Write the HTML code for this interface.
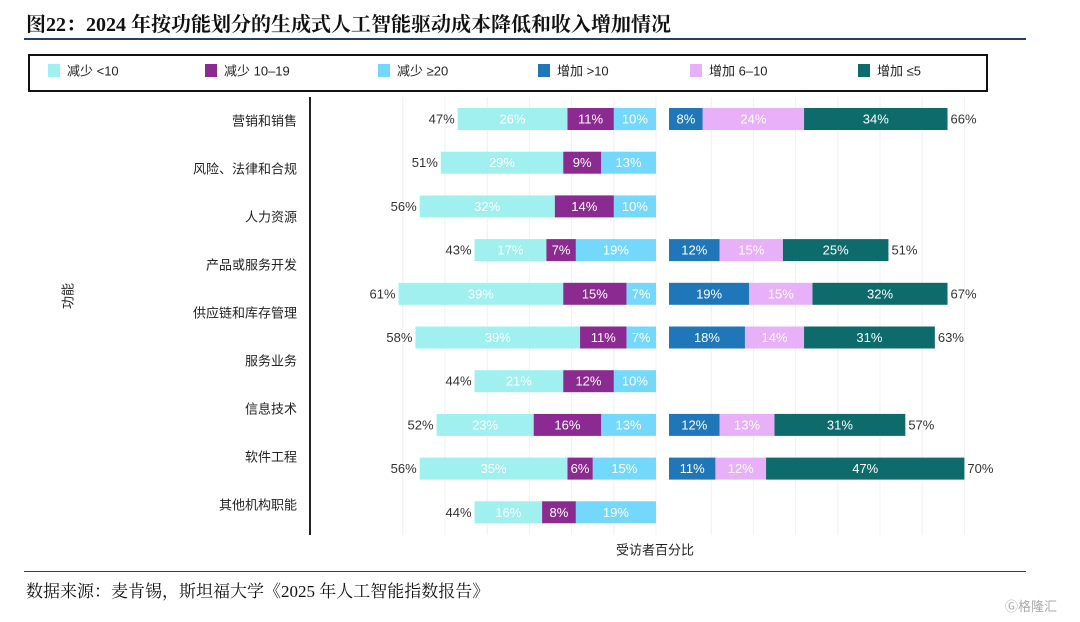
<!DOCTYPE html>
<html><head><meta charset="utf-8"><style>
body{margin:0;width:1080px;height:622px;background:#fff;overflow:hidden;position:relative;font-family:"Liberation Sans","Noto Sans CJK SC",sans-serif}
.t{position:absolute;white-space:nowrap}
</style></head><body>
<div class="t" style="left:26px;top:8px;font-family:'Liberation Serif','Noto Serif CJK SC',serif;font-weight:bold;font-size:20px;color:#111">图22：2024 年按功能划分的生成式人工智能驱动成本降低和收入增加情况</div>
<div style="position:absolute;left:24px;top:38px;width:1002px;height:2px;background:#1d3f7a"></div>
<div style="position:absolute;left:28px;top:54px;width:956px;height:34px;border:2px solid #111"></div>
<svg id="c" width="1080" height="622" style="position:absolute;left:0;top:0"></svg>
<div style="position:absolute;left:24px;top:571px;width:1002px;height:1px;background:#1d3f7a"></div>
<div class="t" style="left:26px;top:577px;font-family:'Liberation Serif','Noto Serif CJK SC',serif;font-size:17px;color:#111">数据来源：麦肯锡，斯坦福大学《2025 年人工智能指数报告》</div>
<div class="t" style="left:1005px;top:596px;font-size:13px;color:#aaa">Ⓖ格隆汇</div>
<script>
const categories=["营销和销售","风险、法律和合规","人力资源","产品或服务开发","供应链和库存管理","服务业务","信息技术","软件工程","其他机构职能"];
const decLow=[26,29,32,17,39,39,21,23,35,16];
const decMid=[11,9,14,7,15,11,12,16,6,8];
const decHigh=[10,13,10,19,7,7,10,13,15,19];
const decTotal=[47,51,56,43,61,58,44,52,56,44];
const incHigh=[8,null,null,12,19,18,null,12,11,null];
const incMid=[24,null,null,15,15,14,null,13,12,null];
const incLow=[34,null,null,25,32,31,null,31,47,null];
const incTotal=[66,null,null,51,67,63,null,57,70,null];
const legendLabels=["减少 <10","减少 10–19","减少 ≥20","增加 >10","增加 6–10","增加 ≤5"];
const colors=["#a0f0f0","#8b2a90","#74d7fc","#1f77b9","#e8b0f8","#0e6b6b"];
const NS="http://www.w3.org/2000/svg",svg=document.getElementById('c');
const K=4.22,LX=656,RX=669;
const xl=v=>LX-v*K, xr=v=>RX+v*K, yc=i=>119+i*43.7, yl=i=>121+i*48;
function mk(t,a){const e=document.createElementNS(NS,t);for(const k in a)e.setAttribute(k,a[k]);svg.appendChild(e);return e;}
function txt(x,y,s,anchor,fill,size){const e=mk('text',{x:x,y:y,'text-anchor':anchor,fill:fill,'font-size':size||13,'dominant-baseline':'central','font-family':'Liberation Sans, Noto Sans CJK SC, sans-serif'});e.textContent=s;return e;}
[0,10,20,30,40,50,60].forEach(v=>{const g=mk('line',{x1:xl(v),x2:xl(v),y1:97,y2:535,stroke:'#f0f0f0'});});
[10,20,30,40,50,60,70].forEach(v=>{const g=mk('line',{x1:xr(v),x2:xr(v),y1:97,y2:535,stroke:'#f0f0f0'});});
const ax=mk('line',{x1:310,x2:310,y1:97,y2:535,stroke:'#222','stroke-width':2});

const lx=[48,205,378,538,690,858];
legendLabels.forEach((l,i)=>{const r=mk('rect',{x:lx[i],y:64,width:12,height:13,fill:colors[i]});

const t=txt(lx[i]+19,71,l,'start','#222',13);});
categories.forEach((c,i)=>{
 const lab=txt(297,yl(i),c,'end','#222',13);
});
decTotal.forEach((tot,i)=>{
 const y=yc(i);
 let acc=0;
 [[decHigh[i],2],[decMid[i],1],[decLow[i],0]].forEach(([v,ci])=>{
  const x=xl(acc+v),w=v*K;
  const r=mk('rect',{x:x,y:y-11,width:w,height:22,fill:colors[ci]});
  
  txt(x+w/2,y,v+'%','middle','#fff',13);acc+=v;});
 const tl=txt(xl(acc)-3,y,tot+'%','end','#333',13);
 if(incTotal[i]!=null){acc=0;
  [[incHigh[i],3],[incMid[i],4],[incLow[i],5]].forEach(([v,ci])=>{
   const x=xr(acc),w=v*K;
   const r=mk('rect',{x:x,y:y-11,width:w,height:22,fill:colors[ci]});
   
   txt(x+w/2,y,v+'%','middle','#fff',13);acc+=v;});
  const t2=txt(xr(acc)+3,y,incTotal[i]+'%','start','#333',13);}
});
const xt=txt(655,550,'受访者百分比','middle','#222',13);
const yt=txt(68,296,'功能','middle','#222',13);yt.setAttribute('transform','rotate(-90 68 296)');
</script>
</body></html>
